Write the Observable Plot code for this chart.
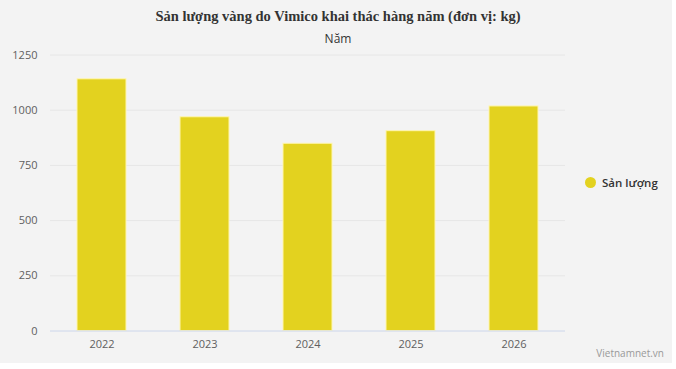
<!DOCTYPE html>
<html>
<head>
<meta charset="utf-8">
<script src="https://cdn.jsdelivr.net/npm/d3@7"></script>
<script src="https://cdn.jsdelivr.net/npm/@observablehq/plot@0.6"></script>
<style>
  html, body { margin: 0; padding: 0; background: #ffffff; }
  #wrap { position: relative; width: 672px; height: 363px; background: #f3f3f3; overflow: hidden; }
  #title { position: absolute; left: 0; width: 676px; top: 8px; text-align: center;
           font-family: "Liberation Serif", "Times New Roman", serif; font-weight: bold; font-size: 14.5px; color: #333; }
  #subtitle { position: absolute; left: 0; width: 676px; top: 30px; text-align: center;
           font-family: "Open Sans", sans-serif; font-size: 12px; color: #333; }
  #legend { position: absolute; left: 585px; top: 175px; font-family: "Open Sans", sans-serif;
            font-weight: 600; font-size: 11.5px; color: #333; display: flex; align-items: center; }
  #legend .sw { width: 11px; height: 11px; border-radius: 50%; background: #e3d21f; margin-right: 6px; }
  #credit { position: absolute; right: 8px; top: 346px; font-family: "Open Sans", sans-serif;
            font-size: 10px; color: #999; }
  #chart { position: absolute; left: 0; top: 0; }
</style>
</head>
<body>
<div id="wrap">
  <div id="chart"></div>
  <div id="title">Sản lượng vàng do Vimico khai thác hàng năm (đơn vị: kg)</div>
  <div id="subtitle">Năm</div>
  <div id="legend"><span class="sw"></span><span>Sản lượng</span></div>
  <div id="credit">Vietnamnet.vn</div>
</div>
<script>
const years = ["2022", "2023", "2024", "2025", "2026"];
const values = [1140, 968, 848, 905, 1017];
const yTicks = [0, 250, 500, 750, 1000, 1250];
const seriesName = "Sản lượng";

const data = years.map((y, i) => ({year: y, value: values[i]}));

const chart = Plot.plot({
  width: 672,
  height: 363,
  marginTop: 54.5,
  marginBottom: 32.5,
  marginLeft: 50,
  marginRight: 107,
  style: {background: "transparent", fontFamily: "Open Sans, sans-serif", fontSize: "11px", color: "#606060"},
  x: {domain: years, paddingInner: 0.52, paddingOuter: 0.26, label: null, tickSize: 0, tickPadding: 9},
  y: {domain: [0, 1250], ticks: yTicks, tickFormat: d => String(d), label: null, tickSize: 0, tickPadding: 13},
  marks: [
    Plot.gridY(yTicks.filter(d => d > 0), {stroke: "#e6e6e6", strokeOpacity: 1}),
    Plot.barY(data, {x: "year", y: "value", fill: "#e3d21f", stroke: "#fff6b0", strokeWidth: 1}),
    Plot.ruleY([0], {stroke: "#ccd6eb", strokeWidth: 1})
  ]
});
document.getElementById("chart").appendChild(chart);
</script>
</body>
</html>
